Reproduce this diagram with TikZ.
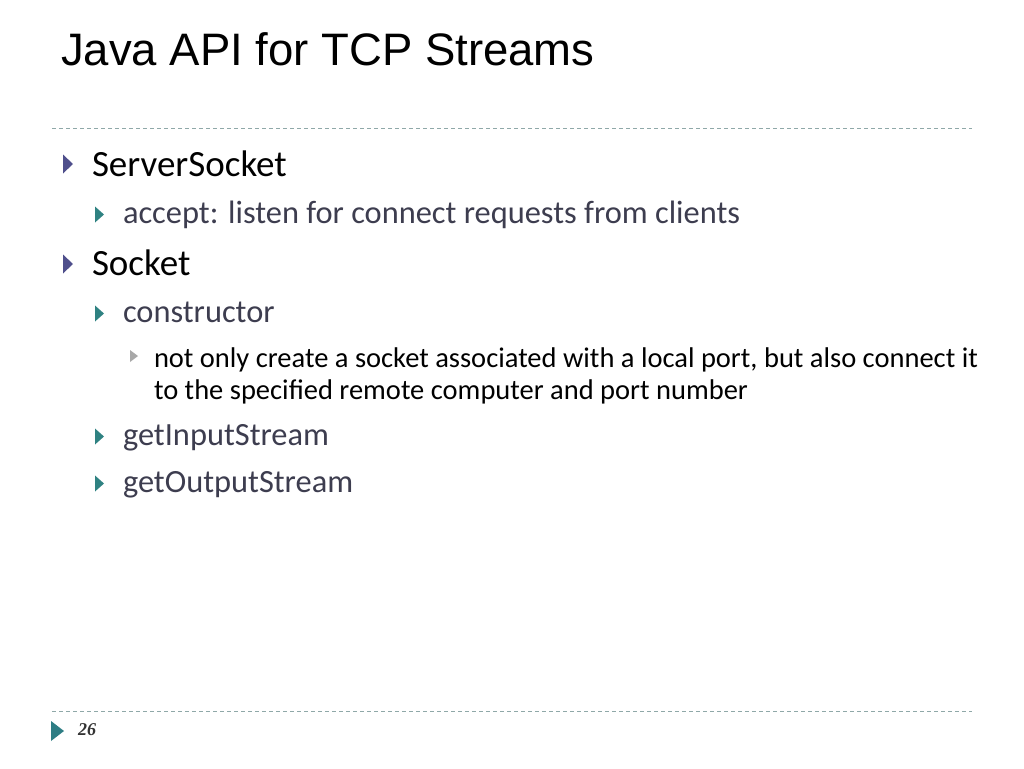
\documentclass[tikz,border=0pt]{standalone}
\usepackage{fontspec}
\setmainfont{Carlito}
\newfontfamily\titlefont{Liberation Sans}
\newfontfamily\numfont{Liberation Serif}
\definecolor{bulA}{HTML}{4F4F8C}
\definecolor{bulB}{HTML}{2F8282}
\definecolor{bulC}{HTML}{A8A8A8}
\definecolor{txtB}{HTML}{3D3D4F}
\definecolor{dashc}{HTML}{8FA8A8}
\definecolor{foottri}{HTML}{2E7D84}
\begin{document}
\begin{tikzpicture}[x=1pt,y=-1pt,
  txt/.style={anchor=base west,inner sep=0pt,outer sep=0pt},
  lvlA/.style={txt,font=\fontsize{37}{44}\selectfont,text=black},
  lvlB/.style={txt,font=\fontsize{32.4}{38}\selectfont,text=txtB},
  lvlC/.style={txt,font=\fontsize{28.5}{33}\selectfont,text=black},
  sepline/.style={draw=dashc,line width=1pt,dash pattern=on 4pt off 3pt},
]
\useasboundingbox[fill=white] (0,0) rectangle (1024,768);
% title
\node[txt,font=\titlefont\fontsize{45.5}{52}\selectfont] (title) at (61,66) {Java API for TCP Streams};
% separators
\coordinate (s1a) at (52,128); \coordinate (s1b) at (972,128);
\coordinate (s2a) at (52,711); \coordinate (s2b) at (972,711);
\draw[sepline] (s1a) -- (s1b);
\draw[sepline] (s2a) -- (s2b);
% level-1 bullets
\fill[bulA] (63,154.5) -- (73,164) -- (63,173.5) -- cycle;
\fill[bulA] (63,254.5) -- (73,264) -- (63,273.5) -- cycle;
% level-2 bullets
\foreach \b in {223,322,445,492}{
  \fill[bulB] (95,\b-16.5) -- (104,\b-8.5) -- (95,\b-0.5) -- cycle;
}
% level-3 bullet
\fill[bulC] (130,350) -- (138,356) -- (130,362) -- cycle;
% texts
\node[lvlA] (ss) at (92,176) {ServerSocket};
\node[lvlB] (acc) at (123,223) {accept: listen for connect requests from clients};
\node[lvlA] (sock) at (92,275) {Socket};
\node[lvlB] (cons) at (123,322) {constructor};
\node[lvlC] (l3a) at (154,367) {not only create a socket associated with a local port, but also connect it};
\node[lvlC] (l3b) at (154,399) {to the specified remote computer and port number};
\node[lvlB] (gis) at (123,445) {getInputStream};
\node[lvlB] (gos) at (123,492) {getOutputStream};
% footer
\fill[foottri] (51,721) -- (64,731) -- (51,741) -- cycle;
\node[txt,font=\numfont\bfseries\itshape\fontsize{18}{20}\selectfont,text=black!80] (pg) at (78,735) {26};
\end{tikzpicture}
\end{document}
